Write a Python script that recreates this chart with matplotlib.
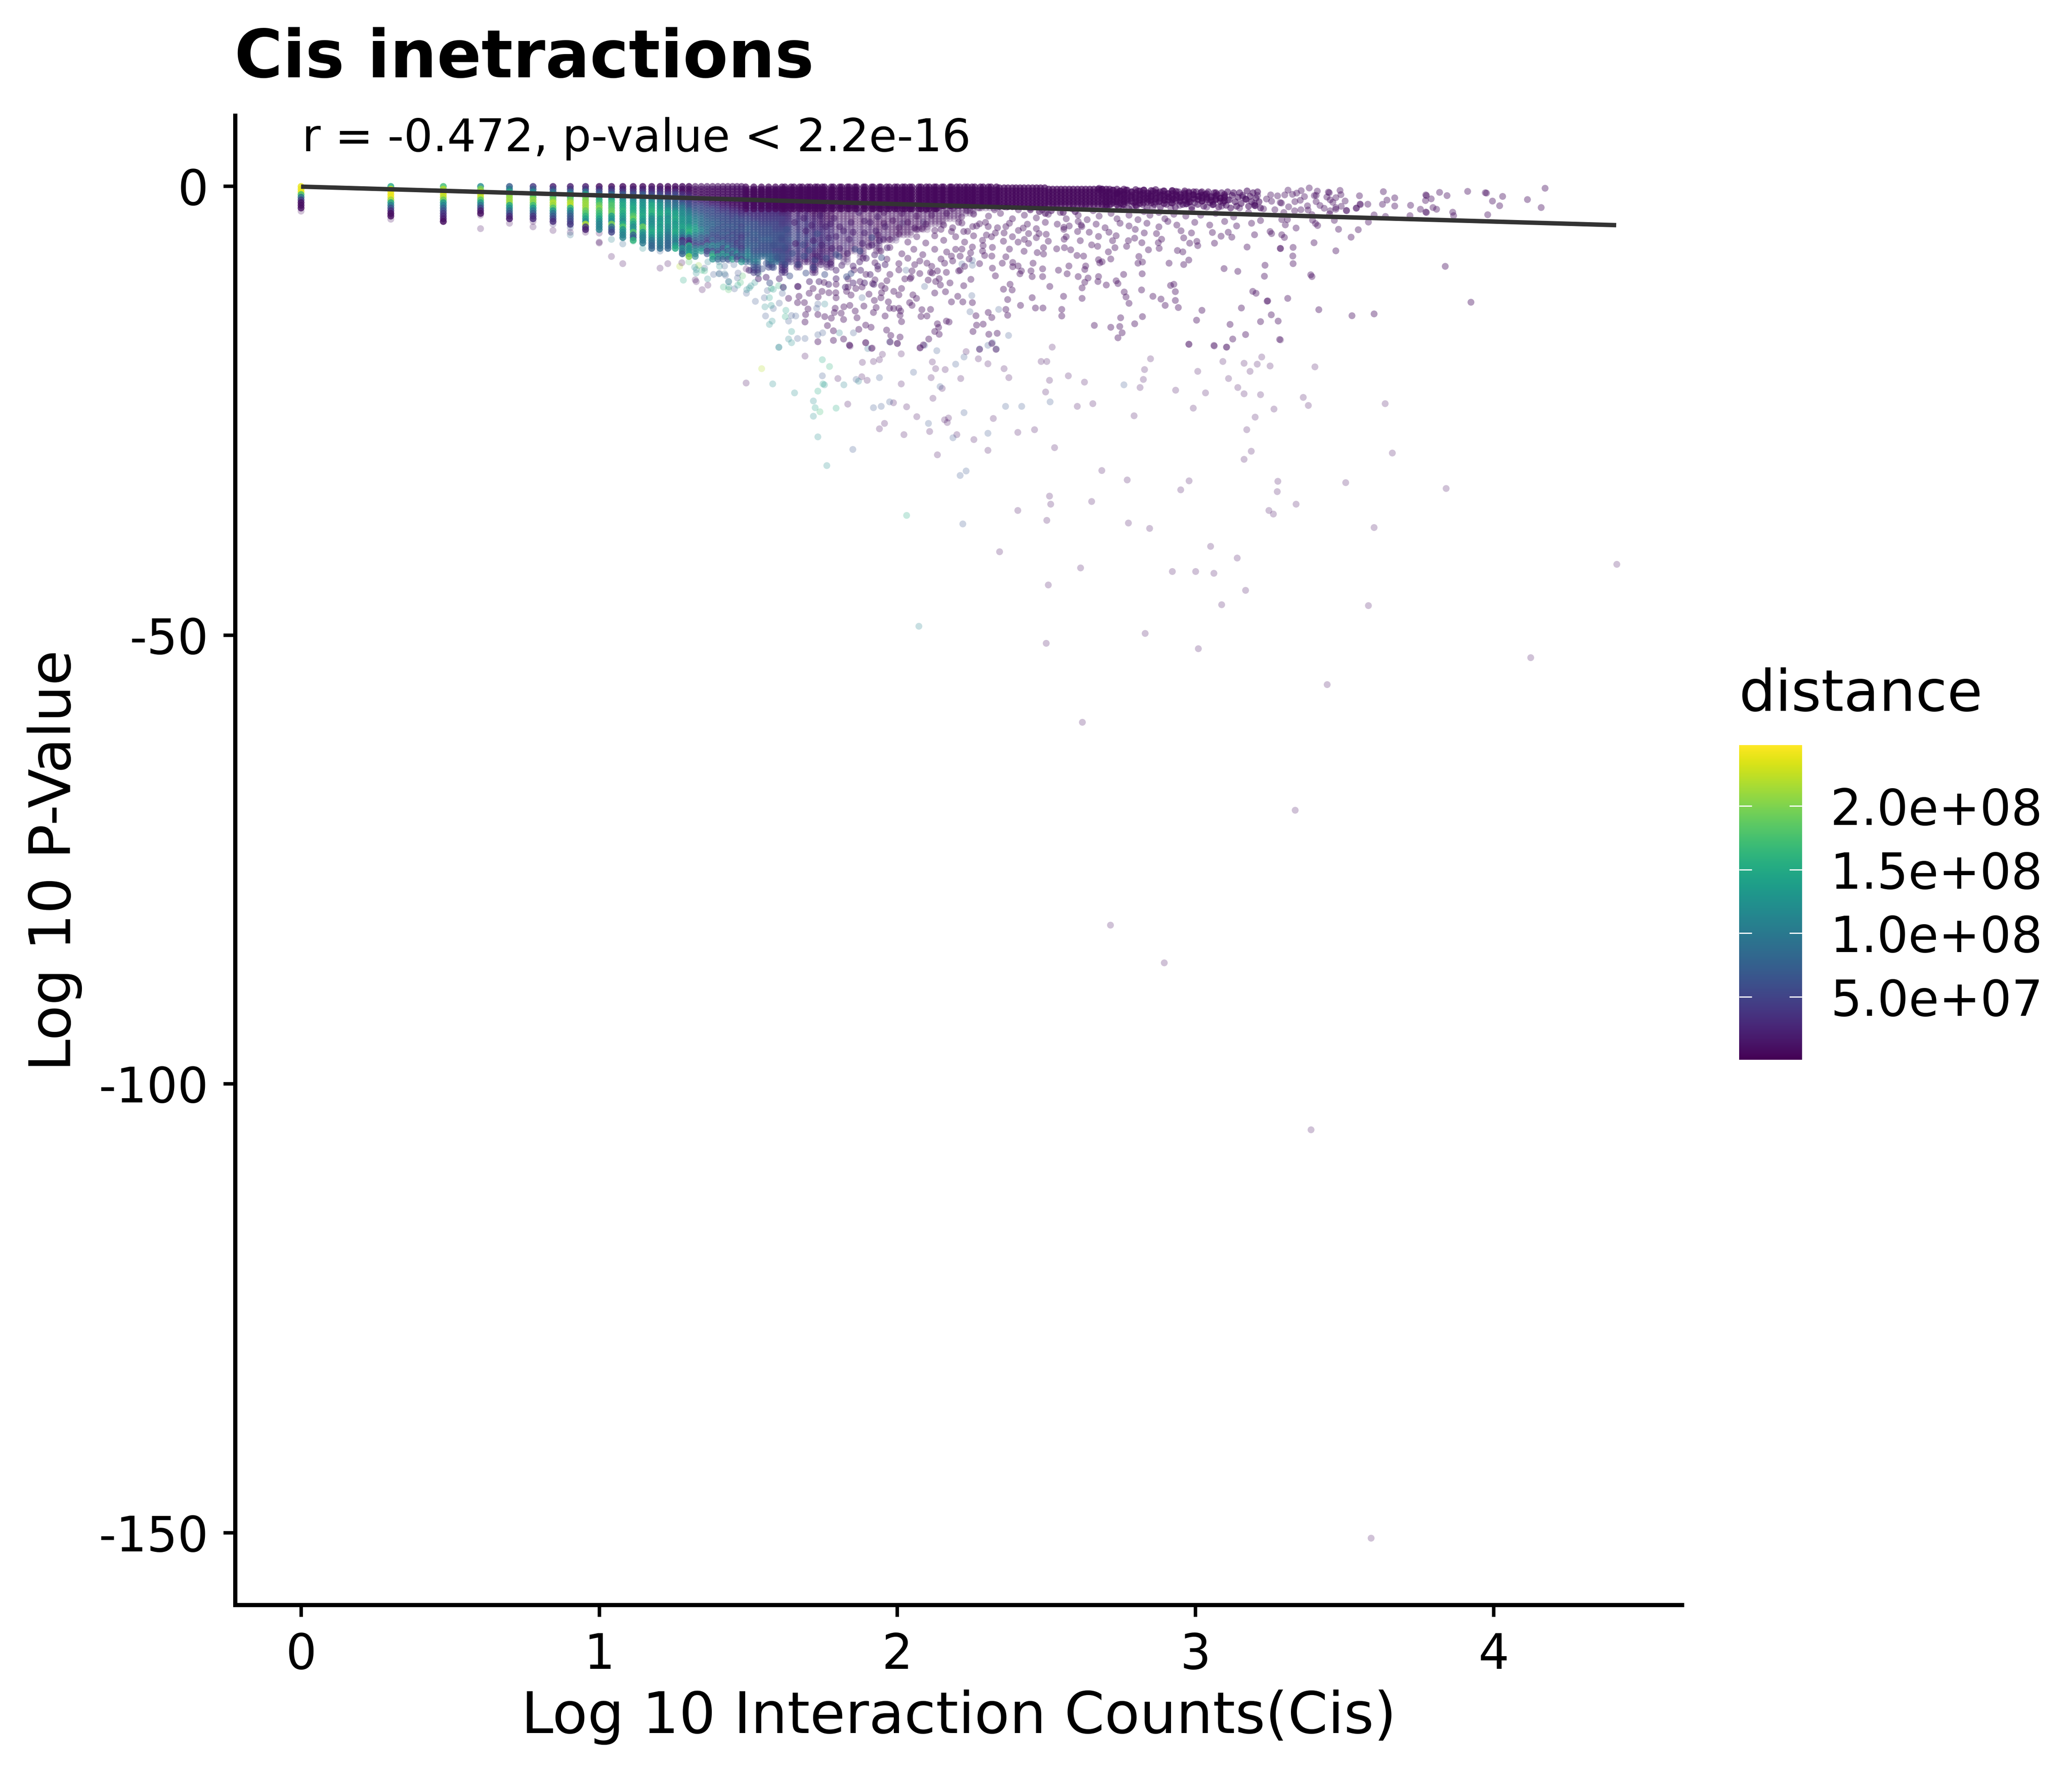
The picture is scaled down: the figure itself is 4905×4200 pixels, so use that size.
import numpy as np
import matplotlib
matplotlib.use("Agg")
import matplotlib.pyplot as plt
from matplotlib.cm import ScalarMappable
from matplotlib.colors import Normalize

# ---------------- data ----------------
# distance is held in units of 1e7
column_levels = [0,-0.3,-0.6,-0.9,-1.2,-1.5,-1.8,-2.1,-2.4,-2.7,-3.0,-3.3,-3.6,-3.9,-4.2,-4.5,-4.8,-5.1,-5.4,-5.7,-6.0,-6.3,-6.6,-6.9,-7.2,-7.5,-7.8,-8.1,-8.4]
column_counts = list(range(1,31))
column_distance = [
[24,24,24,17,9,4,1,1,1],
[15,23,24,24,24,21,14,10,6,3,1,1],
[17,22,24,23,22,19,13,11,8,6,4,3,2,1],
[12,20,22,23,22,18,13,9,5,2,1],
[7,10,15,19,21,21,21,15,12,9,6,3,2],
[4,7,12,16,19,21,20,17,13,10,7,4,3],
[2,5,9,14,18,20,22,21,18,13,9,7,5,3],
[2,4,8,13,16,20,22,22,16,12,9,7,6,5,4],
[2,4,9,15,19,20,21,21,21,19,18,16,14,12,22,4,2],
[1,3,6,9,13,16,17,19,20,18,17,16,14,12,11,11,11],
[1,3,5,9,12,15,17,18,18,19,19,14,13,12,20,9,7,5],
[1,2,4,7,10,12,14,15,15,16,15,14,13,12,15,18,13,12,11,11],
[1,2,4,6,9,11,13,14,15,15,16,18,19,16,14,12,13,18,8,7,16],
[1,2,4,7,10,12,12,13,13,14,14,15,14,13,13,19,18,13,12,11,11,10],
[1,2,3,5,8,10,13,15,15,16,16,14,12,12,12,13,14,15,14,12,10,9,8,8],
[1,2,3,5,7,9,11,13,13,14,15,15,13,13,14,13,14,14,13,12,11,10,10,9],
[1,1,2,4,6,7,9,10,11,13,14,13,12,13,13,12,12,11,10,9,9,8,8,8],
[1,1,3,5,6,7,8,9,10,12,14,14,15,14,13,14,14,15,14,12,11,10,13,15],
[1,1,1,3,4,5,6,8,10,11,12,12,13,13,13,14,14,12,11,8,3,6,6,12,10,8],
[1,1,1,2,3,4,5,6,7,9,10,11,12,12,12,14,15,16,14,8,4,3,15,11,12,14,20],
[1,1,1,1,2,3,4,5,6,7,8,9,10,11,11,13,14,13,11,9,7,6,5,10,12,12,11],
[1,1,1,1,1,2,3,5,6,6,7,8,9,9,9,9,11,11,9,7,8,6,5,11,13],
[1,1,1,1,1,2,3,4,5,6,6,7,7,8,8,8,9,8,9,6,5,4,11,8,3,6],
[1,1,1,1,1,1,2,3,5,6,6,6,7,7,8,8,7,7,6,6,8,6,12,8,5,14,16,12],
[1,1,1,1,1,1,2,3,4,5,5,6,6,7,7,7,6,7,6,5,6,7,10,9,6,5,14,8],
[1,1,1,1,1,1,1,2,3,4,5,6,6,6,7,6,7,6,7,6,5,9,8,5,6,14,10,7],
[1,1,1,1,1,1,1,2,3,4,5,5,6,6,6,7,6,6,7,5,6,6,8,12,6,9,13,6],
[1,1,1,1,1,1,1,1,2,3,4,5,5,6,6,7,6,6,5,7,5,6,7,6,11,6,8,14],
[1,1,1,1,1,1,1,1,2,3,4,5,6,6,6,6,7,5,6,5,6,4,5,6,8,12,6,5],
[1,1,1,1,1,1,1,1,1,2,3,4,5,6,6,5,6,6,5,4,5,6,5,4,6,7,9,5,13],
]

core_levels = [-0.3,-0.9,-1.5,-2.1,-2.7,-3.3,-3.9,-4.5,-5.1,-5.7,-6.3,-6.9,-7.5,-8.1,-8.7,-9.3,-9.9,-10.5,-11.1,-11.7]
core_mid_levels = [-0.6,-1.2,-1.8,-2.4,-3.0,-3.6,-4.2,-4.8,-5.4,-6.0,-6.6,-7.2,-7.8,-8.4,-9.0,-9.6,-10.2,-10.8,-11.4,-12.0]
core_counts = [31,33,35,37,39,41,43,46,49,52,55,58,62,66,70,75,80,85,90,96,102,108,115,122,130,138,146,155,165,175,186,198,210]
core_mid_counts = [32,34,36,38,40,42,44,47,50,53,56,60,64,68,72,77,82,87,93,99,105,111,118,126,134,142,150,160,170,180,192,204,216]
core_distance = [
[1,1,1,2,3,5,6,7,6,7,7,9,11,8],
[1,1,1,2,3,4,6,6,7,6,7,6,8,10,6,4],
[1,1,1,2,3,4,5,6,6,7,6,6,8],
[1,1,1,2,3,4,5,6,6,7,6,6,8,9,5],
[1,1,1,1,3,4,5,5,6,6,6,5,7,8],
[1,1,1,1,2,4,4,5,6,5,6,5,6,6,3,3],
[1,1,1,1,2,3,4,5,5,6,5,4,5,4],
[1,1,1,1,2,3,4,4,5,5,4,4,4,3,2],
[1,1,1,1,2,3,4,4,4,5,3,3,4,2],
[1,1,1,1,1,2,3,3,4,4,5,3,2,3,2,2],
[1,1,1,1,1,2,2,3,4,3,4,2,3,2],
[1,1,1,1,1,1,2,3,3,4,3,2,3,2,2],
[1,1,1,1,1,1,2,2,3,3,2,3,2],
[1,1,1,1,1,1,2,2,3,2,3,2,1,2],
[1,1,1,1,1,1,1,2,2,3,2,1],
[1,1,1,1,1,1,1,2,2,2,2,1,2],
[1,1,1,1,1,1,1,2,2,1,2],
[1,1,1,1,1,1,1,1,2,1,2,1],
[1,1,1,1,1,1,1,1,2,1],
[1,1,1,1,1,1,1,1,1,2],
[1,1,1,1,1,1,1,1,1],
[1,1,1,1,1,1,1,1,1],
[1,1,1,1,1,1,1,1],
[1,1,1,1,1,1,1,1],
[1,1,1,1,1,1,1],
[1,1,1,1,1,1,1],
[1,1,1,1,1,1],
[1,1,1,1,1,1],
[1,1,1,1,1],
[1,1,1,1,1],
[1,1,1,1],
[1,1,1,1],
[1,1,1,1],
]

band_levels = [-0.05,-0.4,-0.75,-1.1,-1.45,-1.8,-2.15,-2.5]
band_counts = [31,33,35,37,39,41,42,44,45,47,48,50,51,53,54,56,57,60,61,64,65,68,69,72,73,77,78,82,83,87,88,92,94,98,100,104,106,110,112,118,120,125,128,133,135,141,143,150,152,158,162,168,172,178,182,190,194,202,206,215,220,228,235,243,250,258,266,275,284,293,302,312,322,332,343,354,365,377,389,402,415,428,442,456,471,486,502]
band_depth = [8]*45 + [7]*27 + [6]*15
band_drop = [0.0]*60 + [0.1]*12 + [0.25]*15

# thinning end of the dark band: count, first value, depth
fade_counts = [515,530,545,560,575,590,610,630,650,670,690,710,735,760,785,810,835,860,890,920,950,985,1020,1050,1090,1130,1170,1210,1250]
fade_top = [-0.3,-0.4,-0.3,-0.5,-0.3,-0.4,-0.6,-0.35,-0.5,-0.4,-0.7,-0.45,-0.35,-0.6,-0.5,-0.8,-0.45,-0.55,-0.9,-0.5,-0.7,-0.6,-1.1,-0.6,-0.8,-1.2,-0.7,-1.3,-0.9]
fade_depth = [6,5,6,5,6,5,4,6,5,5,4,5,5,4,5,3,5,4,3,4,4,3,2,4,3,2,3,2,3]
fade_levels = [0,-0.35,-0.7,-1.05,-1.4,-1.75]

pts_top = [
(2.68,-0.3),(2.685,-1.0),(2.69,-1.7),(2.695,-2.3),(2.70,-0.6),(2.705,-1.3),(2.71,-2.0),(2.715,-0.4),(2.72,-1.1),(2.725,-1.7),
(2.73,-0.8),(2.735,-2.3),(2.74,-0.5),(2.745,-1.4),(2.75,-2.0),(2.755,-0.9),(2.76,-0.4),(2.765,-1.6),(2.77,-2.5),(2.775,-1.1),
(2.78,-0.6),(2.785,-1.8),(2.79,-1.2),(2.795,-2.2),(2.80,-0.5),(2.805,-1.5),(2.81,-0.9),(2.815,-2.0),(2.82,-0.4),(2.825,-1.3),
(2.83,-2.4),(2.835,-0.8),(2.84,-1.6),(2.845,-1.1),(2.85,-0.5),(2.855,-2.0),(2.86,-1.3),(2.865,-0.7),(2.87,-1.7),(2.875,-2.3),
(2.88,-1.0),(2.885,-0.5),(2.89,-1.5),(2.895,-2.0),(2.90,-0.8),(2.905,-1.2),(2.91,-1.8),(2.915,-0.5),(2.92,-1.4),(2.925,-2.3),
(2.93,-1.0),(2.935,-0.6),(2.94,-1.7),(2.945,-1.2),(2.95,-2.0),(2.955,-0.7),(2.961,-1.96),(2.963,-1.9),(2.965,-1.3),(2.97,-0.6),
(2.975,-1.7),(2.98,-2.3),(2.985,-0.9),(2.99,-1.4),(2.995,-0.6),(3.0,-2.0),(3.005,-1.1),(3.01,-0.7),(3.015,-1.6),(3.02,-2.2),
(3.025,-0.9),(3.03,-1.3),(3.035,-0.6),(3.04,-1.8),(3.045,-1.1),(3.05,-2.04),(3.052,-2.0),(3.055,-0.7),(3.06,-1.5),(3.065,-0.9),
(3.07,-2.3),(3.075,-1.3),(3.08,-0.7),(3.085,-1.8),(3.09,-1.1),(3.095,-2.1),(3.10,-0.6),(3.105,-1.5),(3.11,-2.4),(3.115,-1.0),
(3.12,-0.7),(3.125,-1.7),(3.13,-2.2),(3.135,-1.2),(3.14,-0.7),(3.145,-1.9),(3.15,-1.0),(3.16,-1.4),(3.162,-1.45),(3.165,-0.5),
(3.17,-2.2),(3.175,-1.1),(3.18,-1.7),(3.185,-0.7),(3.19,-2.1),(3.192,-2.15),(3.195,-1.3),(3.20,-0.6),(3.205,-1.7),(3.21,-2.4),
(2.67,-0.2),(2.673,-0.4),(2.73,-0.85),(2.735,-0.7),(2.44,-2.6),(2.47,-2.8),(2.49,-3.0),(2.51,-2.7),(2.55,-2.9),(2.59,-2.8),
]
pts_mass_purple = [
(1.742,-6.52),(1.777,-6.91),(1.802,-6.91),(1.727,-7.77),(1.809,-8.79),(1.948,-5.89),(1.891,-8.01),(1.919,-7.62),(1.869,-8.4),(1.828,-7.46),
(1.885,-5.18),(1.923,-4.95),(1.866,-2.91),(1.84,-4.01),(1.771,-4.16),(1.736,-3.22),(1.714,-6.05),(1.765,-5.73),(1.79,-5.58),(1.834,-5.89),
(1.878,-6.36),(1.91,-6.52),(1.935,-6.05),(1.961,-6.83),(1.904,-4.01),(1.929,-3.38),(1.954,-4.48),(1.885,-3.85),(1.847,-5.1),(1.802,-4.48),
(1.783,-3.54),(1.755,-4.48),(1.708,-4.32),(1.682,-3.54),(1.651,-4.01),(1.771,-8.56),(1.739,-8.71),(1.79,-9.34),(1.847,-8.87),(1.872,-9.34),
(1.904,-9.81),(1.929,-8.87),(1.954,-8.71),(1.885,-10.75),(1.916,-10.91),(1.847,-10.75),(1.821,-11.22),(1.79,-10.28),(1.765,-10.91),(1.733,-10.6),
(1.701,-10.6),(1.663,-11.15),(1.613,-11.22),(1.6,-10.28),(1.556,-10.12),(1.53,-10.28),(1.499,-9.34),(1.815,-4.95),(1.689,-4.95),(1.654,-6.36),
]
pts_mass_blue = [
(1.727,-5.26),(1.825,-10.05),(1.942,-7.93),(1.853,-6.99),(1.682,-7.77),(1.663,-8.71),(1.635,-9.97),(1.689,-9.65),(1.644,-7.46),(1.619,-6.83),
(1.594,-7.93),(1.606,-5.73),(1.581,-6.52),(1.625,-4.79),(1.714,-9.03),(1.752,-9.81),(1.619,-8.71),(1.581,-9.03),(1.556,-8.56),(1.543,-9.18),
(1.568,-10.75),(1.757,-8.0),(1.8,-7.8),(1.72,-8.2),(1.68,-6.5),(1.7,-7.1),(1.84,-9.7),(1.87,-7.2),(1.91,-5.7),(1.79,-7.6),
]
pts_fringe = [
(1.92,-2.4),(1.95,-2.9),(1.98,-2.3),(2.01,-3.0),(2.04,-2.5),(2.06,-3.3),(2.09,-2.6),(2.11,-3.2),(2.13,-2.4),(2.16,-3.0),
(2.18,-2.5),(2.21,-3.4),(2.23,-2.7),(2.25,-3.1),(2.27,-2.4),(2.30,-3.3),(2.32,-2.6),(2.34,-3.0),(2.36,-2.3),(2.38,-3.6),
(2.40,-2.6),(2.42,-3.2),(2.44,-2.4),(2.46,-3.5),(2.48,-2.6),(2.50,-3.1),(2.52,-2.3),(2.54,-2.9),(2.56,-3.6),(2.58,-2.5),
(2.60,-3.2),(2.62,-2.4),(2.63,-3.7),(2.65,-2.7),(2.67,-3.3),(2.69,-2.3),(2.71,-3.0),(2.73,-3.6),(2.75,-2.5),(2.77,-3.2),
(2.78,-2.2),(2.80,-3.7),(2.82,-2.8),(2.84,-3.2),(2.85,-2.3),(2.87,-2.9),(2.89,-3.6),(2.91,-2.4),(2.92,-3.1),(2.94,-2.1),
(2.96,-3.3),(2.98,-2.6),(2.99,-1.8),(3.01,-3.2),(3.03,-2.3),(3.05,-1.7),(3.06,-3.0),(3.08,-2.2),(3.10,-1.5),(3.12,-3.4),
(3.14,-2.4),(3.15,-1.2),(3.17,-2.9),(3.19,-1.9),(3.20,-1.0),(3.22,-2.5),(3.23,-1.4),
(1.95,-4.1),(1.98,-3.8),(2.00,-4.6),(2.03,-4.0),(2.06,-4.8),(2.09,-4.2),(2.12,-4.9),(2.15,-4.3),(2.18,-4.6),(2.20,-4.0),
(2.23,-5.0),(2.26,-4.4),(2.29,-4.0),(2.33,-4.6),(2.37,-4.1),(2.40,-4.9),(2.43,-4.2),(2.46,-4.7),(2.49,-4.0),(2.53,-4.2),
(2.57,-4.4),(2.60,-3.9),(2.66,-4.2),(2.69,-4.6),(2.74,-4.1),(2.77,-4.4),(2.83,-4.1),(2.87,-4.5),(2.90,-3.9),(2.93,-4.3),
(2.99,-4.0),(3.04,-4.3),(3.09,-3.9),(3.13,-4.4),(3.18,-4.1),(3.21,-3.8),
(1.93,-5.4),(1.97,-5.9),(2.00,-5.3),(2.03,-6.2),(2.06,-5.6),(2.09,-6.3),(2.12,-5.5),(2.15,-6.0),(2.19,-5.6),(2.22,-6.2),
(2.25,-5.5),(2.28,-6.0),(2.31,-5.6),(2.35,-6.1),(2.38,-5.6),(2.42,-5.9),(2.46,-5.7),(2.50,-6.1),(2.56,-5.6),(1.90,-6.7),
(1.94,-7.2),(1.97,-6.8),(2.01,-7.5),(2.05,-7.0),(2.08,-7.6),(2.12,-7.0),(2.16,-7.3),(2.19,-7.0),(2.24,-7.4),(2.28,-7.2),
(1.88,-8.0),(1.92,-8.5),(1.96,-8.1),(2.00,-8.6),(2.03,-8.0),(2.07,-8.3),(2.11,-8.9),(2.18,-8.3),(2.22,-8.9),(2.27,-8.6),
(1.85,-9.3),(1.89,-9.8),(1.93,-9.2),(1.97,-9.8),(2.00,-9.3),(2.02,-10.3),(2.07,-9.7),(1.83,-10.3),(1.87,-10.6),(1.92,-10.4),
(1.96,-10.5),(1.79,-10.9),(1.83,-11.2),(1.75,-10.7),(1.70,-11.9),(1.73,-12.3),(1.79,-12.4),(1.84,-12.1),(1.90,-12.0),(1.94,-12.4),
(3.165,-6.75),(3.276,-6.9),(3.225,-8.78),(3.223,-10.0),(3.088,-9.15),(3.134,-9.46),(2.97,-8.2),(2.953,-8.7),(2.904,-8.55),(2.814,-9.73),
(2.752,-9.8),(2.803,-7.8),(2.8,-8.55),(2.815,-8.42),(2.709,-8.08),(2.668,-8.16),(2.68,-8.39),(2.672,-8.52),(2.618,-7.76),(2.596,-7.69),
(2.625,-8.86),(2.622,-9.25),(2.668,-10.04),(2.666,-10.59),(2.6,-10.04),(2.633,-10.2),(2.622,-10.67),(2.727,-10.51),(2.694,-10.98),(2.733,-10.82),
(2.909,-11.03),(2.92,-10.9),(2.925,-11.72),(2.812,-11.53),(2.754,-11.76),(2.76,-12.31),(2.85,-12.24),(2.877,-12.55),(2.77,-13.02),(2.925,-12.7),
(2.891,-13.25),(2.935,-13.49),(3.014,-13.8),(2.996,-14.9),(3.108,-15.37),(3.146,-13.54),(3.184,-11.69),(3.195,-11.9),(3.232,-12.78),(3.21,-15.06),
(3.16,-16.5),(3.117,-17.0),(2.97,-17.57),(3.055,-17.76),(3.096,-17.9),(2.742,-14.63),(2.815,-14.5),(2.789,-15.3),(2.654,-15.48),(2.709,-15.69),
(2.739,-15.6),(2.747,-16.3),(2.733,-16.86),(2.613,-11.3),(2.613,-12.47),(2.551,-12.24),(2.505,-11.14),(2.446,-12.39),(2.407,-13.25),(2.457,-13.54),
(2.482,-13.54),(2.545,-13.7),(2.545,-14.43),(2.364,-12.6),(2.35,-11.45),(2.379,-11.53),(2.372,-10.9),(2.246,-12.94),(2.214,-12.86),(2.176,-12.86),
(2.197,-12.24),(2.156,-11.73),(2.12,-11.87),(2.217,-11.06),(2.171,-10.75),(2.139,-10.98),(2.241,-10.35),(2.358,-13.7),(2.364,-14.35),(2.299,-14.04),
(2.311,-14.6),(2.258,-14.4),(2.106,-13.7),(2.077,-13.73),(2.094,-14.43),(2.074,-14.48),(2.159,-15),(2.168,-15.1),(2.129,-15.3),(2.133,-15.7),
(2.12,-16.16),(2.135,-16.47),(2.282,-15.34),(2.26,-15.45),(2.248,-16.16),(2.301,-16.47),(2.329,-16.36),(2.1,-17),(2.082,-17.65),(2.071,-17.96),
(2.311,-17.5),(2.27,-18.15),(2.325,-18.15),(2.006,-13.88),(2.004,-14.35),(2.0,-13.57),(1.983,-13.6),(1.969,-13.57),(1.954,-14.43),(2.009,-15.06),
(1.959,-16.0),(1.973,-16.6),(2.004,-16.78),(1.971,-17.33),(1.995,-17.49),(1.889,-15.45),(1.907,-15.69),(1.866,-15.92),(1.889,-17.41),(1.909,-18.04),
(1.815,-17),(1.835,-17.68),(1.781,-16.08),(1.781,-17.15),(1.729,-17.3),(1.686,-15.1),(1.761,-15.5),(1.688,-14.27),(1.729,-14.27),(1.752,-14.5),
(1.774,-14.67),(1.696,-13.65),(1.661,-12.94),(1.684,-12.94),(1.787,-13.57),(1.816,-13.41),(1.784,-14.04),(1.807,-14.12),(1.854,-13.88),(1.883,-13.33),
(1.915,-14.04),(1.924,-13.49),(1.918,-12.7),(1.965,-12.86),(1.836,-13.25),(1.86,-14.63),(1.815,-14.82),(2.047,-12.08),(2.059,-12.47),(2.036,-12.94),
(2.044,-13.25),(2.0,-12.08),(1.983,-11.69),(2.009,-11.37),(1.942,-11.84),(1.954,-11.37),(1.877,-11.2),(1.856,-11.37),(1.825,-11.69),(1.789,-11.84),
(1.743,-11.69),(1.766,-11.84),(1.666,-12.24),(1.631,-12.47),(1.661,-11.14),(1.713,-11.37),(1.942,-11.06),(1.912,-10.82),(2.176,-5.02),(2.217,-5.02),
(2.358,-4.47),(2.416,-4.63),(2.469,-5.25),(2.493,-5.33),(2.434,-5.25),(2.323,-5.18),(2.293,-5.41),(2.352,-5.18),(2.552,-4.55),(2.552,-4.78),
(2.61,-4.31),(2.612,-4.47),(2.598,-5.02),(2.637,-5.1),(2.668,-5.57),(2.703,-5.1),(2.727,-5.49),(2.715,-6.04),(2.791,-4.78),(2.821,-5.18),
(2.862,-5.25),(2.879,-5.88),(2.868,-6.27),(2.944,-4.94),(2.979,-5.18),(3.049,-5.13),(3.102,-5.1),(3.078,-5.54),(3.114,-5.65),(3.19,-5.38),
(2.997,-6.12),(3.0,-6.59),(2.973,-6.32),(3.056,-6.32),(2.953,-5.73),(2.932,-7.14),(2.95,-7.29),(2.835,-7.06),(2.871,-6.9),(2.813,-6.27),
(2.762,-6.67),(2.768,-6.04),(2.789,-5.76),(2.723,-6.82),(2.701,-7.29),(2.645,-6.51),(2.665,-6.67),(2.607,-6.04),(2.553,-5.88),(2.554,-6.82),
(2.575,-7.06),(2.528,-6.95),(2.484,-6.82),(2.463,-7.37),(2.484,-7.53),(2.434,-6.35),(2.419,-7.22),(2.399,-6.2),(2.37,-6.98),(2.313,-6.79),
(2.282,-6.59),(2.246,-6.75),(2.211,-6.98),(2.287,-7.69),(2.311,-7.76),(2.358,-7.84),(2.346,-8.55),(2.235,-8.08),(2.205,-7.76),(2.176,-7.76),
(2.141,-8.08),(2.153,-8.55),(2.094,-8.55),(2.053,-8.71),(2.044,-9.41),(2.041,-10.12),(2.106,-9.57),(2.129,-9.41),(2.159,-9.57),(2.2,-9.41),
(2.205,-9.33),(2.313,-9.1),(2.381,-8.47),(2.381,-8.94),(2.399,-8.86),(2.449,-8.55),(2.442,-9.41),(2.481,-9.18),(2.534,-9.33),(2.563,-9.73),
(2.569,-8.86),(2.405,-9.73),(2.323,-9.96),(2.41,-9.41),(2.446,-10.04),(2.481,-10.04),(2.112,-9.65),(2.135,-10.27),(2.123,-10.59),(2.098,-10.43),
(2.038,-10.27),(2.247,-4.47),(2.141,-4.78),(2.053,-4.63),(2.077,-4.7),(2.211,-4.08),(2.27,-4.16),(2.299,-4.47),
(3.763,-0.94),(3.765,-1.02),(3.762,-1.57),(3.781,-1.38),(3.763,-2.85),(3.765,-2.9),(3.787,-2.35),(3.799,-2.54),(3.745,-2.54),(3.712,-2.1),
(3.71,-3.25),(3.659,-1.27),(3.659,-2.18),(3.633,-1.52),(3.621,-0.58),(3.618,-1.99),(3.59,-3.17),(3.628,-3.34),(3.571,-3.97),(3.541,-1.04),
(3.569,-1.98),(3.543,-1.96),(3.544,-2.02),(3.531,-2.4),(3.53,-2.43),(3.497,-2.67),(3.498,-2.7),(3.493,-1.62),(3.476,-0.44),(3.479,-0.91),
(3.462,-1.25),(3.48,-2.21),(3.462,-2.35),(3.462,-2.54),(3.457,-3.78),(3.471,-4.77),(3.537,-4.82),(3.513,-5.65),(3.389,-6.27),(3.462,-7.17),
(3.319,-6.79),(3.277,-6.92),(3.318,-7.75),(3.319,-8.6),(3.828,-8.9),(3.378,-9.84),(3.382,-10.04),(3.301,-12.47),(3.914,-12.9),(3.234,-12.75),
(3.405,-13.73),(3.246,-14.3),(3.516,-14.4),(3.59,-14.2),(3.269,-15.0),(3.274,-17.05),(3.401,-4.35),(3.394,-4.13),(3.384,-3.76),(3.329,-4.63),
(3.293,-4.28),(3.281,-3.69),(3.3,-3.69),(3.247,-5.25),(3.242,-5.02),(3.281,-5.38),(3.29,-5.68),(3.373,-0.17),(3.346,-0.47),(3.4,-0.52),
(3.437,-0.63),(3.44,-0.7),(3.432,-1.18),(3.396,-0.99),(3.39,-1.02),(3.357,-1.13),(3.331,-0.74),(3.317,-0.88),(3.302,-0.41),(3.291,-0.94),
(3.267,-1.05),(3.244,-0.94),(3.247,-1.65),(3.276,-1.8),(3.28,-1.85),(3.304,-2.27),(3.325,-1.69),(3.343,-1.54),(3.258,-2.59),(3.324,-2.71),
(3.345,-2.59),(3.367,-2.16),(3.369,-2.62),(3.396,-1.69),(3.409,-2.12),(3.423,-2.43),(3.443,-2.71),(3.443,-1.49),(3.452,-1.77),(3.288,-2.9),
(3.382,-3.14),(3.441,-3.06),(4.162,-0.2),(3.903,-0.55),(3.962,-0.7),(3.966,-0.74),(4.02,-1.11),(3.809,-0.66),(3.834,-1.02),(4.103,-1.46),
(3.986,-1.63),(4.01,-2.15),(4.149,-2.35),(3.97,-3.15),(3.853,-2.87),(3.856,-3.25),
]
pts_sparse = [
(1.686,-18.9),(1.835,-17.7),(1.837,-17.8),(1.911,-18.0),(1.889,-17.4),(1.995,-17.5),(2.071,-18.0),(1.945,-18.7),(2.008,-18.65),(1.935,-19.3),
(1.878,-19.6),(1.915,-19.5),(2.112,-19.55),(2.225,-18.4),(2.266,-19.2),(2.298,-19.76),(2.513,-17.9),(2.971,-17.6),(3.054,-17.7),(3.097,-17.9),
(3.277,-17.1),(2.842,-19.2),(2.476,-19.5),(2.495,-19.5),(2.352,-20.3),(2.123,-20.3),(2.155,-20.4),(2.822,-20.4),(3.0,-20.6),(3.084,-19.5),
(3.155,-19.7),(3.199,-19.8),(3.214,-19.0),(3.242,-20.0),(3.175,-20.6),(3.392,-20.1),(1.796,-21.4),(1.876,-21.2),(1.894,-21.6),(2.108,-21.3),
(2.207,-21.4),(2.368,-21.3),(2.567,-21.1),(2.504,-21.6),(2.621,-21.8),(2.818,-21.5),(3.103,-21.4),(2.807,-22.4),(2.926,-22.7),(3.026,-23.0),
(3.134,-22.4),(3.155,-23.1),(3.21,-23.2),(3.353,-23.5),(1.489,-21.9),(2.008,-22.0),(2.145,-22.5),(2.491,-22.9),(2.114,-23.6),(1.829,-24.25),
(1.982,-24.1),(2.026,-24.55),(2.597,-24.5),(2.649,-24.2),(2.985,-24.7),(3.255,-24.8),(3.37,-24.4),(3.627,-24.2),(2.06,-25.65),(2.153,-26.0),
(2.166,-25.8),(2.162,-26.3),(2.316,-25.85),(2.787,-25.55),(3.192,-25.7),(1.952,-26.4),(1.935,-27.0),(3.164,-27.1),(2.017,-27.65),(2.103,-27.3),
(2.194,-27.65),(2.398,-27.4),(2.454,-27.1),(2.251,-28.2),(2.129,-29.9),(2.298,-29.4),(2.521,-29.1),(3.179,-29.5),(3.155,-30.4),(3.651,-29.7),
(2.679,-31.65),(2.764,-32.7),(2.971,-32.8),(3.268,-32.85),(3.495,-33.0),(3.831,-33.65),(2.943,-33.8),(3.266,-34.0),(2.504,-34.5),(2.645,-35.1),
(2.508,-35.4),(3.329,-35.4),(2.398,-36.1),(3.238,-36.1),(3.253,-36.5),(2.495,-37.2),(2.768,-37.5),(2.839,-38.1),(3.59,-38.0),(3.043,-40.1),
(2.337,-40.7),(3.132,-41.4),(2.608,-42.5),(2.915,-42.9),(2.993,-42.9),(3.054,-43.1),(4.402,-42.1),(2.5,-44.4),(3.16,-45.0),(3.08,-46.6),
(3.571,-46.7),(2.824,-49.8),(2.493,-50.9),(3.002,-51.5),(4.114,-52.5),(3.433,-55.5),(2.614,-59.7),(3.326,-69.5),(2.708,-82.3),(2.888,-86.5),
(3.379,-105.1),(3.58,-150.6),
]
pts_blue = [
(1.969,-17.3),(2.086,-17.7),(2.127,-18.3),(2.19,-19.8),(2.218,-19.0),(2.27,-18.1),(2.298,-17.7),(2.313,-17.4),(2.326,-18.1),(1.744,-21.1),
(1.857,-21.5),(1.935,-21.3),(2.049,-20.7),(2.753,-22.1),(2.138,-22.3),(1.915,-24.65),(1.941,-24.5),(1.969,-24.0),(2.357,-24.5),(2.411,-24.5),
(2.506,-24.0),(2.218,-25.2),(2.099,-26.4),(2.181,-28.0),(2.298,-27.5),(1.846,-29.3),(2.225,-31.7),(2.205,-32.2),(2.214,-37.6),(2.012,-4.08),
(2.082,-4.0),(2.086,-11.14),(2.024,-9.33),(2.211,-8.63),(2.246,-8.78),(2.246,-8.24),(2.244,-12.16),(2.334,-13.7),(2.238,-13.96),(1.848,-16.31),
(2.367,-16.6),(1.877,-12.39),(1.729,-16.52),(1.745,-16.31),(1.661,-16.94),(1.686,-16.94),(1.655,-14.43),(1.641,-14.38),(1.631,-15.0),(1.554,-14.43),
(1.725,-13.57),(1.729,-13.1),(1.6,-13.0),(1.58,-13.6),(1.52,-12.8),(1.55,-12.4),(1.49,-11.9),(1.45,-11.4),(1.56,-11.6),(1.61,-11.9),
(1.4,-9.7),(1.43,-10.6),(1.46,-10.2),(1.35,-9.1),(1.38,-9.8),(1.42,-9.9),
]
pts_teal = [
(1.744,-19.3,15),(1.768,-20.06,16),(1.541,-20.3,22),(1.599,-17.9,11),(1.896,-18.06,9),(1.865,-21.7,11),(1.578,-22.0,12),(1.746,-22.0,14),(1.751,-22.1,13),(1.816,-22.1,11),
(1.651,-23.0,12),(1.729,-22.8,15),(1.714,-23.9,12),(1.72,-24.65,14),(1.79,-24.7,15),(1.736,-25.1,17),(1.714,-25.6,12),(1.729,-27.9,12),(1.759,-31.1,12),(2.026,-36.65,15),
(2.067,-49.0,11),(1.801,-16.31,11),(1.641,-16.16,13),(1.631,-17,11),(1.641,-17.41,12),(1.598,-17.93,11),(1.576,-15.0,12),(1.567,-15.37,12),(1.62,-14.5,15),(1.622,-13.8,14),
(1.752,-13.1,11),(1.567,-12.39,14),(1.573,-13.25,13),(1.552,-13.41,12),(1.614,-11.29,12),(1.598,-11.06,16),(1.573,-11.37,16),(1.47,-10.7,17),(1.5,-11.3,12),(1.43,-11.5,18),
(1.33,-8.8,21),(1.35,-9.4,16),(1.36,-10.3,12),(1.4,-8.9,13),
(1.279,-10.44,15),(1.322,-9.26,12),(1.322,-9.65,12),(1.341,-9.34,16),(1.361,-11.0,1),(1.342,-11.5,1),(1.322,-10.6,1),(1.413,-11.2,16),(1.431,-10.6,12),(1.431,-11.2,12),
(1.461,-11.0,14),(1.477,-9.97,18),(1.518,-10.7,12),(1.505,-11.07,12),(1.491,-11.5,12),(1.53,-9.73,16),(1.58,-11.46,13),(1.417,-9.73,9),(1.398,-9.73,9),(1.462,-9.65,6),
(1.489,-9.18,1),(1.505,-9.34,9),(1.379,-8.08,14),(1.361,-8.4,11),(1.398,-8.4,9),(1.417,-8.87,7),(1.432,-8.24,6),(1.448,-8.71,7),
]
pts_stray = [
(0,-2.75,1),(0.301,-3.1,1),(0.301,-3.65,1),(0.477,-3.9,1),(0.602,-3.2,1),(0.602,-4.7,1),(0.699,-3.6,1),(0.699,-4.1,1),(0.778,-3.9,1),(0.778,-4.5,1),
(0.845,-4.2,3),(0.845,-4.9,1),(0.903,-4.3,6),(0.903,-4.6,6),(0.903,-5.1,2),(0.903,-5.4,9),(0.954,-4.6,3),(0.954,-5.1,1),(1.0,-5.2,1),(1.0,-6.2,1),
(1.0,-6.3,1),(1.041,-5.9,11),(1.041,-7.8,1),(1.079,-6.4,8),(1.079,-8.6,1),(1.114,-6.1,16),(1.146,-5.6,1),(1.146,-6.9,12),(1.204,-9.1,1),(1.23,-8.6,1),
(1.204,-7.2,7),(1.27,-8.9,22),(1.277,-8.5,1),(1.301,-8.4,18),(1.32,-9.0,12),(1.322,-10.4,1),
]
line_x = [0, 4.411]
line_y = [-0.02, -4.31]
cbar_tick_values = [5, 10, 15, 20]
cbar_tick_labels = ["5.0e+07", "1.0e+08", "1.5e+08", "2.0e+08"]
x_ticks = [0, 1, 2, 3, 4]
y_ticks = [0, -50, -100, -150]
y_tick_labels = ["0", "-50", "-100", "-150"]
X_READ_SCALE = 1.0025   # points above were read with a slightly different x unit

# ---------------- drawing ----------------
plt.rcParams['font.family'] = 'DejaVu Sans'
W, H = 4905, 4200
fig = plt.figure(figsize=(W/600, H/600), dpi=600, facecolor='white')
ax = fig.add_axes([557/W, 1-3800/H, (3982-557)/W, (3800-274)/H])
norm = Normalize(0.05, 24.78)
cmap = 'viridis'
MS = 3.8

def draw(x, y, d, alpha):
    ax.scatter(x, y, c=d, cmap=cmap, norm=norm, s=MS, alpha=alpha, linewidths=0, zorder=2)

def draw_pairs(points, dist, alpha):
    p = np.array(points, dtype=float)
    d = p[:, 2] if p.shape[1] == 3 else np.full(len(p), dist)
    draw(p[:, 0] * X_READ_SCALE, p[:, 1], d, alpha)

draw_pairs(pts_sparse, 1.0, 0.25)
draw_pairs(pts_blue, 6.5, 0.25)
draw_pairs(pts_teal, None, 0.25)
p = np.array(pts_stray)
draw(p[:, 0], p[:, 1], p[:, 2], 0.25)

for count, mid, dist in zip(core_counts, core_mid_counts, core_distance):
    k = len(dist)
    a = 0.5 if count < 43 else (0.38 if count < 60 else 0.22)
    for c in (count, mid):
        for lev in (core_levels, core_mid_levels):
            draw(np.full(k, np.log10(c)), lev[:k], dist, a)

draw_pairs(pts_fringe, 1.0, 0.4)
draw_pairs(pts_mass_blue, 6.0, 0.45)
draw_pairs(pts_mass_purple, 2.0, 0.45)
draw_pairs(pts_top, 1.0, 0.55)

for count, top, depth in zip(fade_counts, fade_top, fade_depth):
    ys = top + np.array(fade_levels[:depth])
    draw(np.full(depth, np.log10(count)), ys, np.full(depth, 0.6), 0.6)

for count, depth, drop in zip(band_counts, band_depth, band_drop):
    ys = np.array(band_levels[:depth]) - drop
    draw(np.full(depth, np.log10(count)), ys, np.full(depth, 0.6), 0.7)

for count, dist in zip(column_counts, column_distance):
    k = len(dist)
    draw(np.full(k, np.log10(count)), column_levels[:k], dist, 0.8 if count < 21 else 0.6)

ax.plot(line_x, line_y, color='#333333', lw=1.25, solid_capstyle='butt', zorder=3)

ax.set_xlim(-0.2206, 4.632)
ax.set_ylim(-158.05, 7.88)
ax.set_xticks(x_ticks)
ax.set_yticks(y_ticks)
ax.set_yticklabels(y_tick_labels)
for s in ('top', 'right'):
    ax.spines[s].set_visible(False)
for s in ('left', 'bottom'):
    ax.spines[s].set_linewidth(1.2)
ax.tick_params(length=3.4, width=1.0, labelsize=13.75, pad=4.2)
ax.set_xlabel("Log 10 Interaction Counts(Cis)", fontsize=16.35, labelpad=3.0)
ax.set_ylabel("Log 10 P-Value", fontsize=16.35, labelpad=4.6)
fig.text(555/W, 1-183/H, "Cis inetractions", fontsize=18.7, fontweight='bold', ha='left', va='baseline')
fig.text(715/W, 1-358/H, "r = -0.472, p-value < 2.2e-16", fontsize=12.88, ha='left', va='baseline')

cax = fig.add_axes([4117/W, 1-2509/H, (4266-4117)/W, (2509-1764)/H])
sm = ScalarMappable(norm=norm, cmap=cmap)
cb = fig.colorbar(sm, cax=cax)
cb.outline.set_visible(False)
cb.set_ticks(cbar_tick_values)
cb.set_ticklabels(cbar_tick_labels)
cax.tick_params(left=True, right=True, labelleft=False, labelright=True, direction='in',
                color='white', length=3.6, width=0.35, labelsize=14.0, pad=8)
fig.text(4116/W, 1-1683/H, "distance", fontsize=16.35, ha='left', va='baseline')

fig.savefig("out.png", dpi=600)
